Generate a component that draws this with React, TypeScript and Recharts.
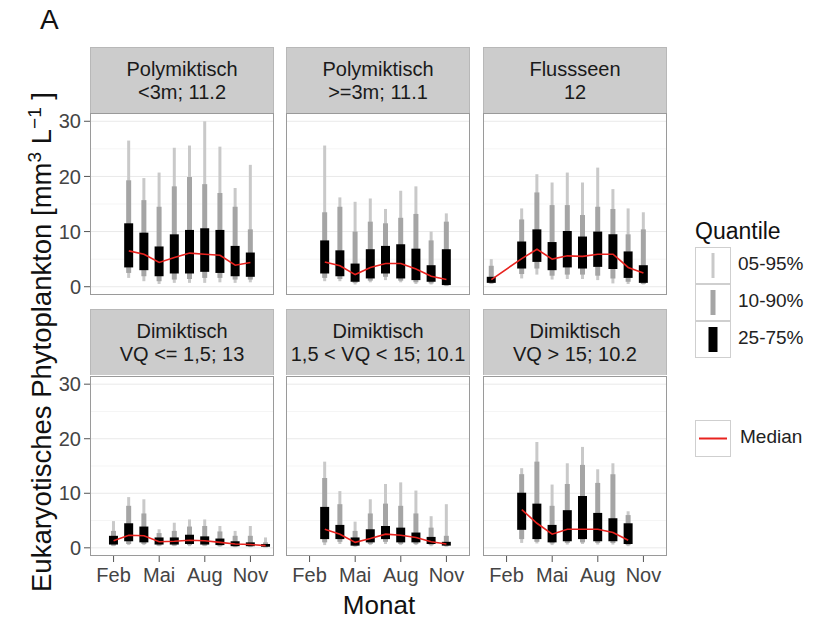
import { ComposedChart, Bar, Line, XAxis, YAxis, CartesianGrid } from 'recharts'

// rows: [month, q05, q10, q25, q50, q75, q90, q95]
type Row = number[]

const POLY_SHALLOW: Row[] = [
  [3, 1.6, 2.5, 3.5, 6.5, 11.5, 19.3, 26.5],
  [4, 1.0, 1.9, 3.0, 5.9, 9.8, 15.7, 19.7],
  [5, 0.5, 1.0, 1.9, 4.4, 7.3, 14.5, 20.7],
  [6, 0.7, 1.3, 2.4, 5.3, 9.5, 18.2, 25.2],
  [7, 0.7, 1.4, 2.4, 6.1, 10.3, 19.9, 25.6],
  [8, 0.7, 1.6, 2.7, 5.9, 10.6, 18.6, 30.0],
  [9, 0.8, 1.6, 2.5, 5.7, 10.3, 17.0, 25.4],
  [10, 0.7, 1.3, 1.9, 3.9, 7.4, 14.5, 17.9],
  [11, 0.8, 1.3, 1.8, 4.4, 6.2, 10.4, 22.1],
]

const POLY_DEEP: Row[] = [
  [3, 1.0, 1.6, 2.4, 4.5, 8.4, 13.5, 25.6],
  [4, 1.0, 1.4, 1.9, 3.8, 6.6, 14.5, 16.2],
  [5, 0.4, 0.7, 0.9, 2.2, 4.2, 10.0, 15.4],
  [6, 0.8, 1.1, 1.5, 3.5, 6.8, 11.8, 16.0],
  [7, 1.2, 1.8, 2.4, 4.2, 7.4, 11.5, 14.1],
  [8, 0.8, 1.1, 1.5, 4.2, 7.7, 12.5, 17.4],
  [9, 0.5, 0.8, 1.2, 3.2, 6.9, 13.2, 18.2],
  [10, 0.4, 0.6, 0.9, 1.9, 3.9, 8.4, 10.0],
  [11, 0.1, 0.2, 0.3, 1.3, 6.8, 11.8, 13.3],
]

const FLUSS: Row[] = [
  [1, 0.5, 0.6, 0.7, 1.3, 1.8, 3.8, 5.0],
  [3, 1.5, 2.3, 3.3, 5.1, 8.2, 12.2, 14.2],
  [4, 2.2, 3.3, 4.5, 6.8, 10.4, 17.1, 20.4],
  [5, 1.3, 2.0, 3.0, 5.0, 8.1, 14.8, 18.9],
  [6, 1.4, 2.2, 3.5, 5.6, 10.1, 14.8, 20.7],
  [7, 1.4, 2.2, 3.3, 5.5, 9.1, 13.0, 18.9],
  [8, 1.2, 2.0, 3.6, 5.9, 10.0, 14.5, 21.6],
  [9, 0.6, 1.5, 3.2, 5.9, 9.5, 14.1, 17.7],
  [10, 0.5, 0.9, 1.6, 3.5, 6.4, 9.5, 14.2],
  [11, 0.4, 0.5, 0.7, 2.5, 3.9, 10.4, 13.5],
]

const DIM_LOW: Row[] = [
  [2, 0.3, 0.4, 0.6, 1.3, 2.2, 3.1, 4.9],
  [3, 0.5, 0.7, 1.2, 2.3, 4.5, 7.7, 9.3],
  [4, 0.5, 0.7, 1.0, 2.2, 3.9, 6.3, 8.9],
  [5, 0.3, 0.4, 0.6, 1.1, 1.9, 2.7, 3.4],
  [6, 0.3, 0.4, 0.6, 1.2, 1.9, 3.1, 4.6],
  [7, 0.3, 0.5, 0.7, 1.4, 2.4, 3.9, 5.2],
  [8, 0.3, 0.4, 0.6, 1.3, 2.1, 4.0, 5.2],
  [9, 0.2, 0.3, 0.5, 1.0, 1.7, 3.0, 4.0],
  [10, 0.1, 0.2, 0.3, 0.7, 1.2, 2.2, 3.1],
  [11, 0.1, 0.2, 0.3, 0.6, 1.0, 2.2, 4.0],
  [12, 0.1, 0.1, 0.2, 0.4, 0.7, 1.0, 1.9],
]

const DIM_MID: Row[] = [
  [3, 0.5, 1.0, 1.6, 3.4, 7.5, 12.8, 15.8],
  [4, 0.7, 1.1, 1.6, 2.5, 4.2, 8.0, 10.4],
  [5, 0.2, 0.3, 0.4, 1.0, 1.9, 3.1, 4.8],
  [6, 0.5, 0.7, 1.0, 1.7, 3.4, 6.3, 8.9],
  [7, 0.7, 1.1, 1.6, 2.5, 4.0, 8.1, 11.7],
  [8, 0.5, 0.7, 1.0, 2.3, 3.7, 7.7, 12.0],
  [9, 0.5, 0.7, 1.0, 1.9, 2.8, 6.3, 10.5],
  [10, 0.3, 0.5, 0.7, 1.1, 2.0, 3.7, 5.8],
  [11, 0.2, 0.3, 0.4, 0.7, 1.1, 2.2, 8.0],
]

const DIM_HIGH: Row[] = [
  [3, 0.9, 1.6, 3.3, 7.0, 10.1, 13.5, 14.6],
  [4, 0.8, 1.1, 1.6, 4.5, 8.1, 15.8, 19.4],
  [5, 0.5, 0.8, 1.0, 2.5, 4.2, 7.7, 11.6],
  [6, 0.6, 0.9, 1.2, 3.4, 6.9, 11.7, 15.5],
  [7, 0.7, 1.0, 1.6, 3.4, 9.5, 15.2, 18.5],
  [8, 0.6, 0.9, 1.2, 3.4, 6.4, 11.9, 14.4],
  [9, 0.6, 0.9, 1.2, 2.8, 5.4, 13.5, 15.5],
  [10, 0.3, 0.5, 0.7, 1.4, 4.5, 6.0, 6.7],
]

const PANEL_TITLES = [
  ['Polymiktisch', '<3m; 11.2'],
  ['Polymiktisch', '>=3m; 11.1'],
  ['Flussseen', '12'],
  ['Dimiktisch', 'VQ <= 1,5; 13'],
  ['Dimiktisch', '1,5 < VQ < 15; 10.1'],
  ['Dimiktisch', 'VQ > 15; 10.2'],
]
const PANEL_DATA = [POLY_SHALLOW, POLY_DEEP, FLUSS, DIM_LOW, DIM_MID, DIM_HIGH]

const MONTH_TICKS = [2, 5, 8, 11]
const MONTH_NAMES = ['Jan', 'Feb', 'Mär', 'Apr', 'Mai', 'Jun', 'Jul', 'Aug', 'Sep', 'Okt', 'Nov', 'Dez']
const Y_TICKS = [0, 10, 20, 30]
const Y_MINOR = [5, 15, 25]
const QUANTILE_LABELS = ['05-95%', '10-90%', '25-75%']

const FONT = '"Liberation Sans", Arial, Helvetica, sans-serif'
const X_DOMAIN: [number, number] = [0.45, 12.55]
const Y_DOMAIN: [number, number] = [-1.5, 31.5]
const C_THIN = '#c9c9c9'
const C_MID = '#a5a5a5'
const C_BOX = '#000000'
const C_MED = '#e8231f'
const TICK_STYLE = { fill: '#444', fontSize: 20, fontFamily: FONT }

const COL_X = [90, 286, 483]
const PLOT_W = 184
const ROW_STRIP = [47, 309]
const STRIP_H = 66
const ROW_PLOT = [113, 376]
const PLOT_H = [182, 180]
const Y_AXIS_W = 50
const X_AXIS_H = 42
const PAD = 12

function toRows(rows: Row[]) {
  return rows.map((r) => ({ m: r[0], q05: r[1], q10: r[2], q25: r[3], q50: r[4], q75: r[5], q90: r[6], q95: r[7] }))
}

function Panel({ idx }: { idx: number }) {
  const col = idx % 3
  const row = Math.floor(idx / 3)
  const showY = col === 0
  const showX = row === 1
  const data = toRows(PANEL_DATA[idx])
  const plotLeft = COL_X[col]
  const plotTop = ROW_PLOT[row]
  const padBottom = showX ? 0 : PAD
  const w = PLOT_W + (showY ? Y_AXIS_W : 0)
  const h = PLOT_H[row] + (showX ? X_AXIS_H : 0) + PAD + padBottom

  return (
    <>
      <div
        style={{
          position: 'absolute',
          left: plotLeft,
          top: ROW_STRIP[row],
          width: PLOT_W,
          height: STRIP_H,
          boxSizing: 'border-box',
          background: '#cccccc',
          border: '1px solid #b8b8b8',
          borderBottom: 'none',
          display: 'flex',
          flexDirection: 'column',
          justifyContent: 'center',
          alignItems: 'center',
          fontFamily: FONT,
          fontSize: 20,
          lineHeight: '23px',
          color: '#1a1a1a',
        }}
      >
        <div>{PANEL_TITLES[idx][0]}</div>
        <div>{PANEL_TITLES[idx][1]}</div>
      </div>
      <div style={{ position: 'absolute', left: plotLeft - (showY ? Y_AXIS_W : 0), top: plotTop - PAD }}>
        <ComposedChart width={w} height={h} data={data} margin={{ top: PAD, right: 0, bottom: padBottom, left: 0 }}>
          <XAxis xAxisId="thin" type="number" dataKey="m" domain={X_DOMAIN} hide height={0} allowDataOverflow />
          <XAxis xAxisId="mid" type="number" dataKey="m" domain={X_DOMAIN} hide height={0} allowDataOverflow />
          <XAxis xAxisId="box" type="number" dataKey="m" domain={X_DOMAIN} hide height={0} allowDataOverflow />
          <XAxis
            xAxisId="main"
            type="number"
            dataKey="m"
            domain={X_DOMAIN}
            ticks={MONTH_TICKS}
            interval={0}
            tickFormatter={(v: number) => MONTH_NAMES[v - 1]}
            hide={!showX}
            height={showX ? X_AXIS_H : 0}
            tick={TICK_STYLE}
            tickSize={6}
            tickMargin={6}
            tickLine={{ stroke: '#555' }}
            axisLine={false}
            allowDataOverflow
          />
          <YAxis
            type="number"
            domain={Y_DOMAIN}
            ticks={Y_TICKS}
            interval={0}
            hide={!showY}
            width={showY ? Y_AXIS_W : 0}
            tick={TICK_STYLE}
            tickSize={6}
            tickMargin={3}
            tickLine={{ stroke: '#555' }}
            axisLine={false}
            allowDataOverflow
          />
          <CartesianGrid xAxisId="main" vertical={false} horizontalValues={Y_MINOR} stroke="#f5f5f5" />
          <CartesianGrid xAxisId="main" vertical={false} horizontalValues={Y_TICKS} stroke="#e9e9e9" />
          <Bar xAxisId="thin" dataKey={(d: any) => [d.q05, d.q95]} barSize={3} fill={C_THIN} isAnimationActive={false} />
          <Bar xAxisId="mid" dataKey={(d: any) => [d.q10, d.q90]} barSize={5} fill={C_MID} isAnimationActive={false} />
          <Bar xAxisId="box" dataKey={(d: any) => [d.q25, d.q75]} barSize={9} fill={C_BOX} isAnimationActive={false} />
          <Line
            xAxisId="main"
            type="linear"
            dataKey="q50"
            stroke={C_MED}
            strokeWidth={1.6}
            dot={false}
            activeDot={false}
            isAnimationActive={false}
          />
        </ComposedChart>
      </div>
      <div
        style={{
          position: 'absolute',
          left: plotLeft,
          top: plotTop,
          width: PLOT_W,
          height: PLOT_H[row],
          boxSizing: 'border-box',
          border: '1px solid #9a9a9a',
          pointerEvents: 'none',
        }}
      />
    </>
  )
}

function LegendKey({ top, children }: { top: number; children: any }) {
  return (
    <div
      style={{
        position: 'absolute',
        left: 695,
        top,
        width: 36,
        height: 37,
        boxSizing: 'border-box',
        border: '1px solid #cfcfcf',
        background: '#fff',
      }}
    >
      <svg width={34} height={35}>
        {children}
      </svg>
    </div>
  )
}

export default function App() {
  const keyTops = [247, 284, 321]
  const keyStyles = [
    { c: C_THIN, w: 3 },
    { c: C_MID, w: 5 },
    { c: C_BOX, w: 9 },
  ]
  return (
    <div
      style={{
        position: 'absolute',
        left: 0,
        top: 0,
        width: 816,
        height: 624,
        background: '#fff',
        fontFamily: FONT,
        overflow: 'hidden',
      }}
    >
      <div style={{ position: 'absolute', left: 40, top: 4, fontSize: 28, color: '#111' }}>A</div>
      {PANEL_DATA.map((_, i) => (
        <Panel key={i} idx={i} />
      ))}
      <div
        style={{
          position: 'absolute',
          left: 35 - 280,
          top: 342 - 16,
          width: 560,
          height: 32,
          lineHeight: '32px',
          textAlign: 'center',
          fontSize: 27.5,
          color: '#111',
          transform: 'rotate(-90deg)',
          whiteSpace: 'nowrap',
        }}
      >
        Eukaryotisches Phytoplankton [mm<sup style={{ fontSize: 19 }}>3</sup> L<sup style={{ fontSize: 19 }}>−1</sup> ]
      </div>
      <div
        style={{
          position: 'absolute',
          left: 90,
          width: 578,
          top: 590,
          textAlign: 'center',
          fontSize: 26,
          color: '#111',
        }}
      >
        Monat
      </div>

      <div style={{ position: 'absolute', left: 695, top: 218, fontSize: 23, color: '#111' }}>Quantile</div>
      {QUANTILE_LABELS.map((label, i) => (
        <div key={label}>
          <LegendKey top={keyTops[i]}>
            <line x1={17} x2={17} y1={5} y2={30} stroke={keyStyles[i].c} strokeWidth={keyStyles[i].w} />
          </LegendKey>
          <div
            style={{
              position: 'absolute',
              left: 738,
              top: keyTops[i] + 6,
              fontSize: 19,
              color: '#222',
            }}
          >
            {label}
          </div>
        </div>
      ))}
      <LegendKey top={420}>
        <line x1={3} x2={31} y1={17.5} y2={17.5} stroke={C_MED} strokeWidth={2} />
      </LegendKey>
      <div style={{ position: 'absolute', left: 740, top: 426, fontSize: 19, color: '#222' }}>Median</div>
    </div>
  )
}
